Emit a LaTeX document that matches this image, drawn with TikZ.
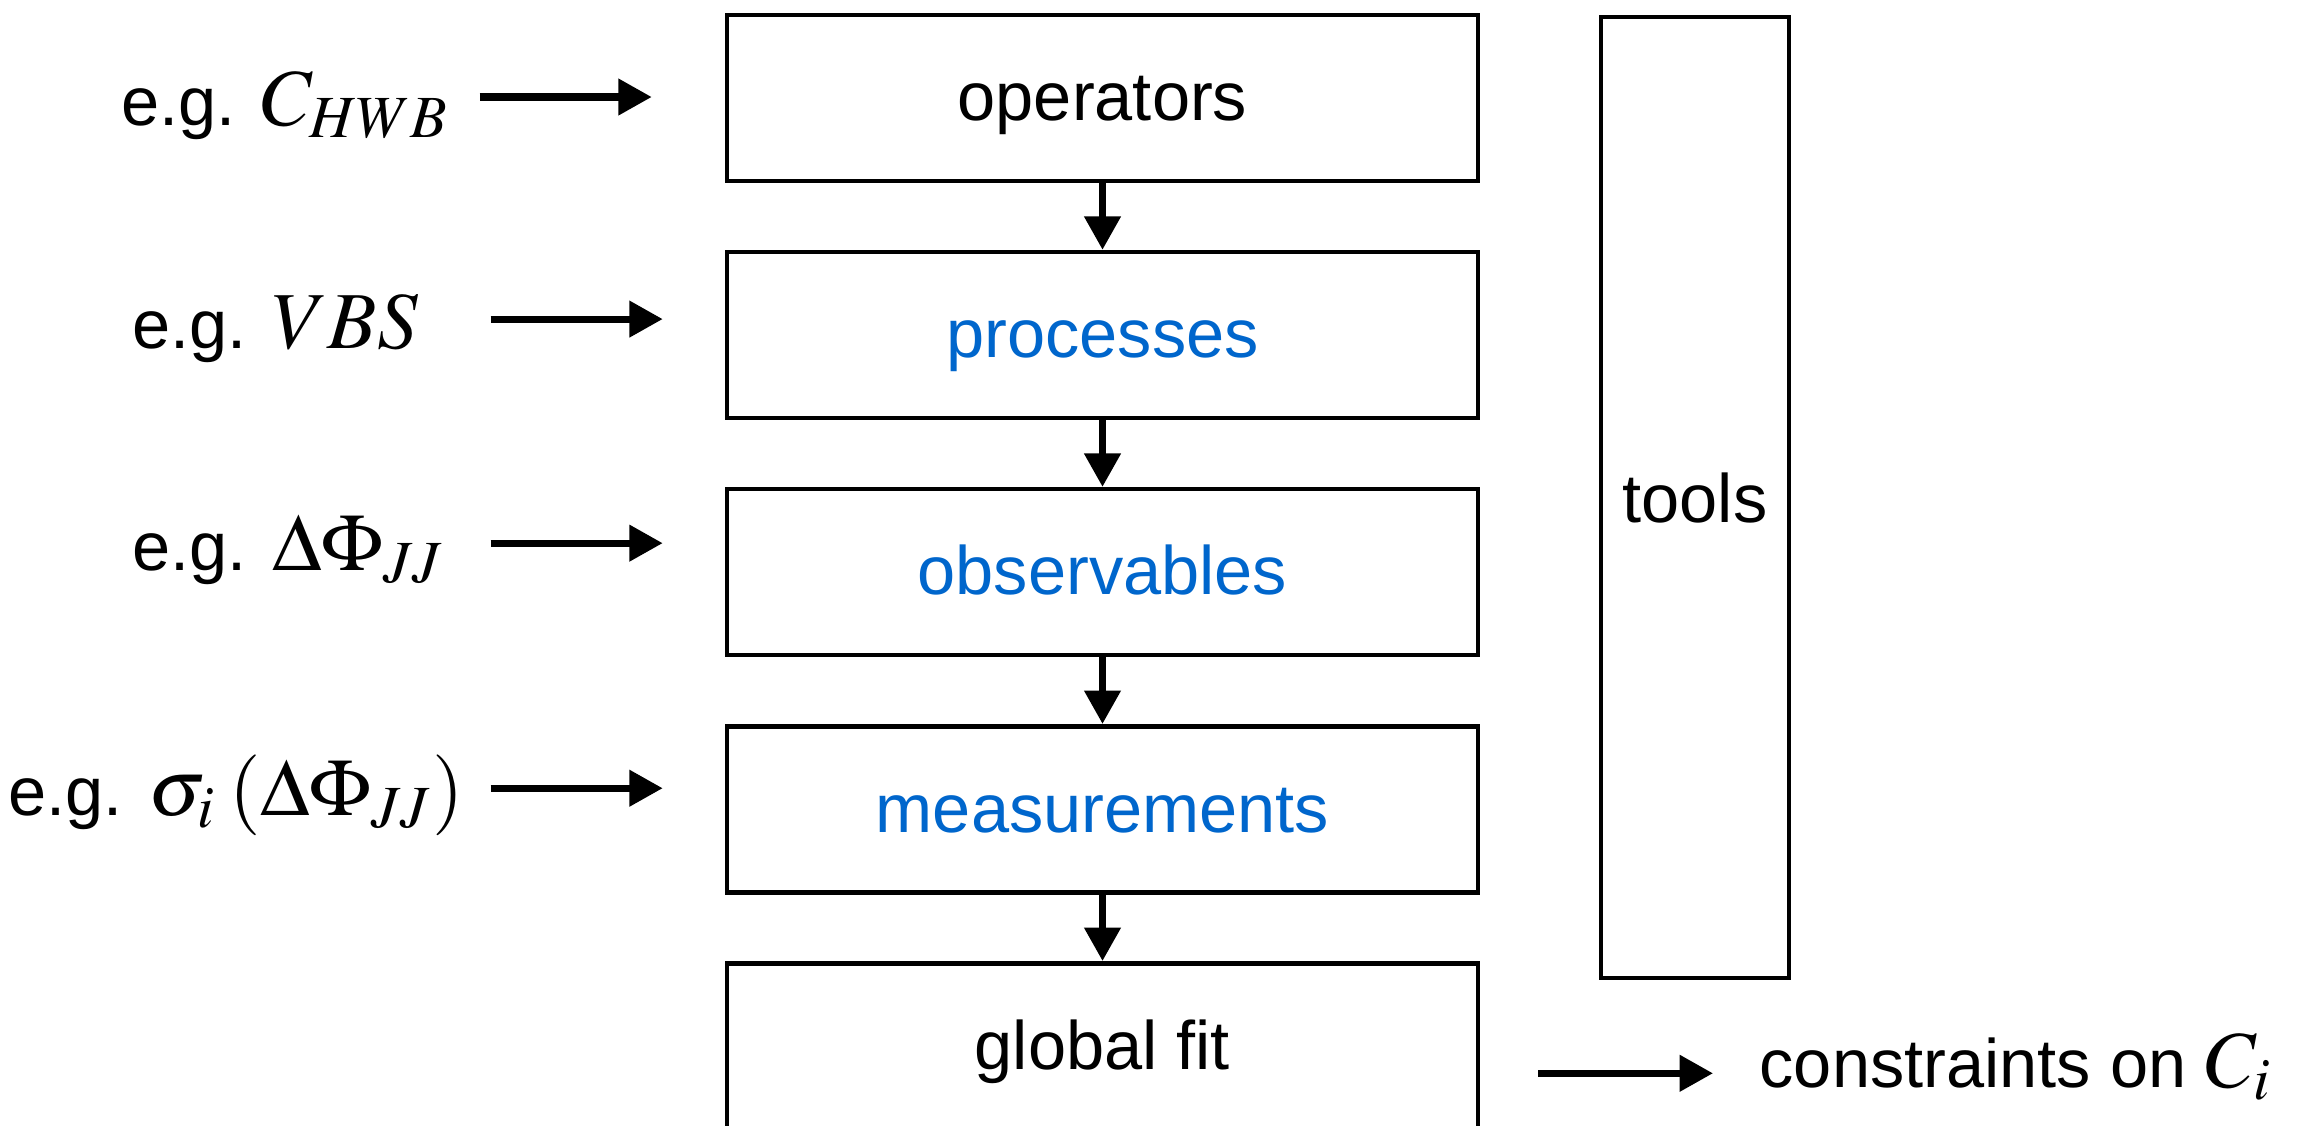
\documentclass[tikz,border=0pt]{standalone}
\usepackage{amsmath}
\usepackage{mathptmx}
\usepackage[no-math]{fontspec}
\setmainfont{Liberation Sans}
\usetikzlibrary{arrows.meta,positioning}
\definecolor{procblue}{RGB}{0,102,204}
\newcommand{\egmath}[1]{{\fontsize{23}{27}\selectfont$#1$}}

\begin{document}
\begin{tikzpicture}[
  font=\fontsize{19.5}{23}\selectfont,
  stage/.style={draw,line width=1.3pt,minimum width=7.51cm,minimum height=1.66cm,inner sep=0pt,
    text height=13pt,text depth=0pt},
  example/.style={inner sep=0pt,anchor=base west},
  flow/.style={line width=2pt,-{Triangle[length=9.5pt,width=10pt]}},
  node distance=0.665cm
]
\clip (0,0) rectangle (23.12,-11.25);
\node[stage] (ops) at (11.025,-0.98) {operators};
\node[stage,below=of ops,text=procblue] (proc) {processes};
\node[stage,below=of proc,text=procblue] (obs) {observables};
\node[stage,below=of obs,text=procblue] (meas) {measurements};
\node[stage,below=of meas] (fit) {global fit};
\node[draw,line width=1.3pt,minimum width=1.88cm,minimum height=9.61cm,inner sep=0pt] (tools) at (16.95,-4.975) {tools};

\foreach \a/\b in {ops/proc,proc/obs,obs/meas,meas/fit}
  \draw[flow] (\a) -- (\b);

\node[example] (egops) at (1.21,-1.25) {e.g. \egmath{C_{HWB}}};
\node[example] (egproc) at (1.32,-3.48) {e.g. \egmath{VBS}};
\node[example] (egobs) at (1.32,-5.70) {e.g. \egmath{\Delta\Phi_{JJ}}};
\node[example] (egmeas) at (0.08,-8.15) {e.g. \egmath{\sigma_i\mkern3mu(\Delta\Phi_{JJ})}};
\node[example] (cons) at (17.59,-10.87) {constraints on \egmath{C_i}};

\coordinate (inops) at ([xshift=-2.45cm,yshift=0.01cm]ops.west);
\coordinate (inproc) at ([xshift=-2.34cm,yshift=0.16cm]proc.west);
\coordinate (inobs) at ([xshift=-2.34cm,yshift=0.29cm]obs.west);
\coordinate (inmeas) at ([xshift=-2.34cm,yshift=0.21cm]meas.west);
\coordinate (out) at ([xshift=0.58cm,yshift=-0.27cm]fit.east);

\draw[flow,shorten >=0.73cm] (inops) -- (inops -| ops.west);
\draw[flow,shorten >=0.62cm] (inproc) -- (inproc -| proc.west);
\draw[flow,shorten >=0.62cm] (inobs) -- (inobs -| obs.west);
\draw[flow,shorten >=0.62cm] (inmeas) -- (inmeas -| meas.west);
\draw[flow,shorten >=0.46cm] (out) -- (out -| cons.west);
\end{tikzpicture}
\end{document}
